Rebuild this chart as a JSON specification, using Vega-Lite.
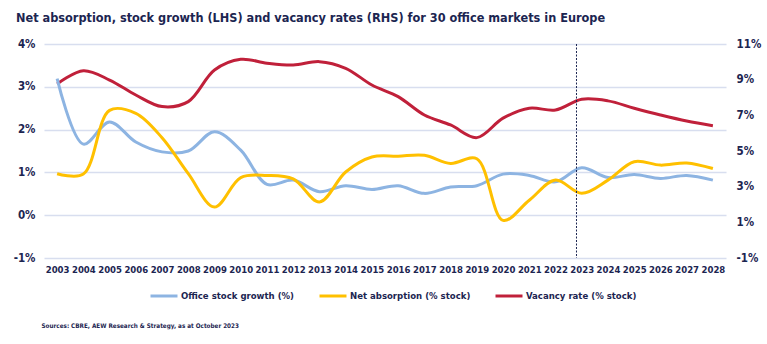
{
  "$schema": "https://vega.github.io/schema/vega-lite/v6.json",
  "width": 682,
  "height": 214,
  "autosize": {"type": "none"},
  "padding": {"left": 44, "top": 44, "right": 41, "bottom": 86},
  "background": "white",
  "config": {"font": "DejaVu Sans Condensed, Roboto, sans-serif", "view": {"stroke": null}},
  "title": {
    "text": "Net absorption, stock growth (LHS) and vacancy rates (RHS) for 30 office markets in Europe",
    "anchor": "start",
    "frame": "group",
    "dx": -28,
    "offset": 13,
    "fontSize": 12.6,
    "fontWeight": "bold",
    "color": "#1c2551",
    "font": "DejaVu Sans Condensed, Roboto, sans-serif"
  },
  "datasets": {
    "series": [
      {"year": 2003, "series": "Office stock growth (%)", "value": 3.19},
      {"year": 2004, "series": "Office stock growth (%)", "value": 1.66},
      {"year": 2005, "series": "Office stock growth (%)", "value": 2.18},
      {"year": 2006, "series": "Office stock growth (%)", "value": 1.71},
      {"year": 2007, "series": "Office stock growth (%)", "value": 1.48},
      {"year": 2008, "series": "Office stock growth (%)", "value": 1.5},
      {"year": 2009, "series": "Office stock growth (%)", "value": 1.95},
      {"year": 2010, "series": "Office stock growth (%)", "value": 1.52},
      {"year": 2011, "series": "Office stock growth (%)", "value": 0.72},
      {"year": 2012, "series": "Office stock growth (%)", "value": 0.82},
      {"year": 2013, "series": "Office stock growth (%)", "value": 0.55},
      {"year": 2014, "series": "Office stock growth (%)", "value": 0.69},
      {"year": 2015, "series": "Office stock growth (%)", "value": 0.6},
      {"year": 2016, "series": "Office stock growth (%)", "value": 0.69},
      {"year": 2017, "series": "Office stock growth (%)", "value": 0.51},
      {"year": 2018, "series": "Office stock growth (%)", "value": 0.66},
      {"year": 2019, "series": "Office stock growth (%)", "value": 0.69},
      {"year": 2020, "series": "Office stock growth (%)", "value": 0.96},
      {"year": 2021, "series": "Office stock growth (%)", "value": 0.93},
      {"year": 2022, "series": "Office stock growth (%)", "value": 0.78},
      {"year": 2023, "series": "Office stock growth (%)", "value": 1.11},
      {"year": 2024, "series": "Office stock growth (%)", "value": 0.88},
      {"year": 2025, "series": "Office stock growth (%)", "value": 0.95},
      {"year": 2026, "series": "Office stock growth (%)", "value": 0.86},
      {"year": 2027, "series": "Office stock growth (%)", "value": 0.93},
      {"year": 2028, "series": "Office stock growth (%)", "value": 0.82},
      {"year": 2003, "series": "Net absorption (% stock)", "value": 0.97},
      {"year": 2004, "series": "Net absorption (% stock)", "value": 0.96},
      {"year": 2005, "series": "Net absorption (% stock)", "value": 2.45},
      {"year": 2006, "series": "Net absorption (% stock)", "value": 2.38},
      {"year": 2007, "series": "Net absorption (% stock)", "value": 1.81},
      {"year": 2008, "series": "Net absorption (% stock)", "value": 0.97},
      {"year": 2009, "series": "Net absorption (% stock)", "value": 0.19},
      {"year": 2010, "series": "Net absorption (% stock)", "value": 0.88},
      {"year": 2011, "series": "Net absorption (% stock)", "value": 0.93},
      {"year": 2012, "series": "Net absorption (% stock)", "value": 0.85},
      {"year": 2013, "series": "Net absorption (% stock)", "value": 0.31},
      {"year": 2014, "series": "Net absorption (% stock)", "value": 1.01},
      {"year": 2015, "series": "Net absorption (% stock)", "value": 1.36},
      {"year": 2016, "series": "Net absorption (% stock)", "value": 1.38},
      {"year": 2017, "series": "Net absorption (% stock)", "value": 1.4},
      {"year": 2018, "series": "Net absorption (% stock)", "value": 1.21},
      {"year": 2019, "series": "Net absorption (% stock)", "value": 1.32},
      {"year": 2020, "series": "Net absorption (% stock)", "value": -0.12},
      {"year": 2021, "series": "Net absorption (% stock)", "value": 0.35},
      {"year": 2022, "series": "Net absorption (% stock)", "value": 0.82},
      {"year": 2023, "series": "Net absorption (% stock)", "value": 0.51},
      {"year": 2024, "series": "Net absorption (% stock)", "value": 0.82},
      {"year": 2025, "series": "Net absorption (% stock)", "value": 1.25},
      {"year": 2026, "series": "Net absorption (% stock)", "value": 1.17},
      {"year": 2027, "series": "Net absorption (% stock)", "value": 1.22},
      {"year": 2028, "series": "Net absorption (% stock)", "value": 1.09},
      {"year": 2003, "series": "Vacancy rate (% stock)", "value": 8.76},
      {"year": 2004, "series": "Vacancy rate (% stock)", "value": 9.5},
      {"year": 2005, "series": "Vacancy rate (% stock)", "value": 8.98},
      {"year": 2006, "series": "Vacancy rate (% stock)", "value": 8.14},
      {"year": 2007, "series": "Vacancy rate (% stock)", "value": 7.49},
      {"year": 2008, "series": "Vacancy rate (% stock)", "value": 7.77},
      {"year": 2009, "series": "Vacancy rate (% stock)", "value": 9.54},
      {"year": 2010, "series": "Vacancy rate (% stock)", "value": 10.14},
      {"year": 2011, "series": "Vacancy rate (% stock)", "value": 9.92},
      {"year": 2012, "series": "Vacancy rate (% stock)", "value": 9.82},
      {"year": 2013, "series": "Vacancy rate (% stock)", "value": 10.01},
      {"year": 2014, "series": "Vacancy rate (% stock)", "value": 9.64},
      {"year": 2015, "series": "Vacancy rate (% stock)", "value": 8.7},
      {"year": 2016, "series": "Vacancy rate (% stock)", "value": 8.05},
      {"year": 2017, "series": "Vacancy rate (% stock)", "value": 7.02},
      {"year": 2018, "series": "Vacancy rate (% stock)", "value": 6.46},
      {"year": 2019, "series": "Vacancy rate (% stock)", "value": 5.75},
      {"year": 2020, "series": "Vacancy rate (% stock)", "value": 6.84},
      {"year": 2021, "series": "Vacancy rate (% stock)", "value": 7.4},
      {"year": 2022, "series": "Vacancy rate (% stock)", "value": 7.3},
      {"year": 2023, "series": "Vacancy rate (% stock)", "value": 7.9},
      {"year": 2024, "series": "Vacancy rate (% stock)", "value": 7.81},
      {"year": 2025, "series": "Vacancy rate (% stock)", "value": 7.4},
      {"year": 2026, "series": "Vacancy rate (% stock)", "value": 7.02},
      {"year": 2027, "series": "Vacancy rate (% stock)", "value": 6.68},
      {"year": 2028, "series": "Vacancy rate (% stock)", "value": 6.42}
    ],
    "marker": [{"year": 2022.8}]
  },
  "encoding": {
    "x": {
      "field": "year",
      "type": "quantitative",
      "scale": {"domain": [2002.5, 2028.5], "nice": false, "zero": false},
      "axis": {
        "values": [2003, 2004, 2005, 2006, 2007, 2008, 2009, 2010, 2011, 2012, 2013, 2014, 2015, 2016, 2017, 2018, 2019, 2020, 2021, 2022, 2023, 2024, 2025, 2026, 2027, 2028],
        "format": "d",
        "domain": false,
        "ticks": false,
        "grid": false,
        "labelFont": "DejaVu Sans Condensed, Roboto, sans-serif",
        "labelFontSize": 9.5,
        "labelFontWeight": "bold",
        "labelColor": "#1c2551",
        "labelPadding": 6,
        "labelOverlap": false,
        "title": "Sources: CBRE, AEW Research & Strategy, as at October 2023",
        "titleX": -3,
        "titleY": 67,
        "titleAlign": "left",
        "titleBaseline": "middle",
        "titleFont": "DejaVu Sans Condensed, Roboto, sans-serif",
        "titleFontSize": 6.3,
        "titleFontWeight": "bold",
        "titleColor": "#1c2551"
      }
    }
  },
  "layer": [
    {
      "data": {"name": "series"},
      "transform": [{"filter": "datum.series === 'Vacancy rate (% stock)'"}],
      "mark": {"type": "line", "interpolate": "catmull-rom", "strokeWidth": 3},
      "encoding": {
        "y": {
          "field": "value",
          "type": "quantitative",
          "scale": {"domain": [-1, 11], "nice": false, "zero": false},
          "axis": {
            "orient": "right",
            "values": [-1, 1, 3, 5, 7, 9, 11],
            "labelExpr": "datum.value + '%'",
            "domain": false,
            "ticks": false,
            "grid": false,
            "title": null,
            "labelFont": "DejaVu Sans Condensed, Roboto, sans-serif",
            "labelFontSize": 11.5,
            "labelFontWeight": "bold",
            "labelColor": "#1c2551",
            "labelPadding": 10
          }
        },
        "color": {"field": "series", "type": "nominal"}
      }
    },
    {
      "data": {"name": "series"},
      "transform": [{"filter": "datum.series !== 'Vacancy rate (% stock)'"}],
      "mark": {"type": "line", "interpolate": "catmull-rom", "strokeWidth": 3},
      "encoding": {
        "y": {
          "field": "value",
          "type": "quantitative",
          "scale": {"domain": [-1, 4], "nice": false, "zero": false},
          "axis": {
            "orient": "left",
            "values": [-1, 0, 1, 2, 3, 4],
            "labelExpr": "datum.value + '%'",
            "domain": false,
            "ticks": false,
            "grid": true,
            "gridColor": "#d8deef",
            "gridWidth": 1.5,
            "title": null,
            "labelFont": "DejaVu Sans Condensed, Roboto, sans-serif",
            "labelFontSize": 11.5,
            "labelFontWeight": "bold",
            "labelColor": "#1c2551",
            "labelPadding": 9
          }
        },
        "color": {
          "field": "series",
          "type": "nominal",
          "scale": {
            "domain": ["Office stock growth (%)", "Net absorption (% stock)", "Vacancy rate (% stock)"],
            "range": ["#8db4e2", "#ffc000", "#c0203a"]
          },
          "legend": {
            "orient": "none",
            "legendX": 105,
            "legendY": 237,
            "direction": "horizontal",
            "title": null,
            "symbolType": "stroke",
            "symbolStrokeWidth": 3,
            "symbolSize": 729,
            "labelFont": "DejaVu Sans Condensed, Roboto, sans-serif",
            "labelFontSize": 9.5,
            "labelFontWeight": "bold",
            "labelColor": "#1c2551",
            "labelOffset": 2,
            "columnPadding": 18
          }
        }
      }
    },
    {
      "data": {"name": "marker"},
      "mark": {"type": "rule", "color": "#1c2551", "strokeWidth": 1, "strokeDash": [2, 1.5]},
      "encoding": {}
    }
  ],
  "resolve": {"scale": {"y": "independent"}}
}
